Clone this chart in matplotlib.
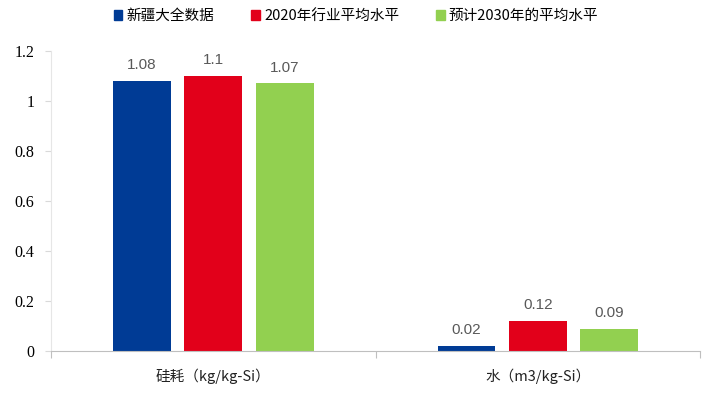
import numpy as np
import matplotlib
matplotlib.use("Agg")
import matplotlib.pyplot as plt
from matplotlib.patches import Patch

categories = ["硅耗（kg/kg-Si）", "水（m3/kg-Si）"]
series_names = ["新疆大全数据", "2020年行业平均水平", "预计2030年的平均水平"]
xinjiang = [1.08, 0.02]
avg_2020 = [1.1, 0.12]
est_2030 = [1.07, 0.09]
yticks = [0, 0.2, 0.4, 0.6, 0.8, 1, 1.2]
ytick_labels = ["0", "0.2", "0.4", "0.6", "0.8", "1", "1.2"]

colors = ["#003B95", "#E2001A", "#92D050"]
cjk = ["Noto Sans CJK SC", "DejaVu Sans"]

fig = plt.figure(figsize=(7.08, 3.98), dpi=100)
ax = fig.add_axes([0.072, 0.118, 0.917, 0.754])

x = np.arange(len(categories))
width = 0.178
step = 0.22
for i, (vals, c) in enumerate(zip([xinjiang, avg_2020, est_2030], colors)):
    pos = x + (i - 1) * step
    ax.bar(pos, vals, width=width, color=c, zorder=2)
    for p, v in zip(pos, vals):
        ax.text(p, v + 0.035, f"{v:g}", ha="center", va="bottom",
                fontsize=11, color="#595959", family="Liberation Sans")

ax.set_xlim(-0.5, 1.5)
ax.set_ylim(0, 1.2)
ax.set_yticks(yticks)
ax.set_yticklabels(ytick_labels)
for t in ax.get_yticklabels():
    t.set_fontfamily("Liberation Serif")
    t.set_fontsize(11.5)

# category boundaries carry the x tick marks
ax.set_xticks([-0.5, 0.5, 1.5])
ax.set_xticklabels([])
ax.tick_params(axis="x", length=5, color="#BFBFBF", direction="out")
ax.tick_params(axis="y", length=4, color="#D9D9D9", pad=8)
for i, lab in enumerate(categories):
    ax.text(x[i], -0.07, lab, ha="center", va="top", fontsize=10.5,
            family=cjk, color="#222222")

for s in ["top", "right"]:
    ax.spines[s].set_visible(False)
ax.spines["left"].set_color("#E6E6E6")
ax.spines["bottom"].set_color("#BFBFBF")

handles = [Patch(color=c) for c in colors]
fig.legend(handles, series_names, loc="upper center", bbox_to_anchor=(0.503, 1.01),
           ncol=3, frameon=False, prop={"family": cjk, "size": 10.5},
           handlelength=0.6, handleheight=0.6, handletextpad=0.3, columnspacing=2.5)

fig.savefig("out.png", dpi=100)
